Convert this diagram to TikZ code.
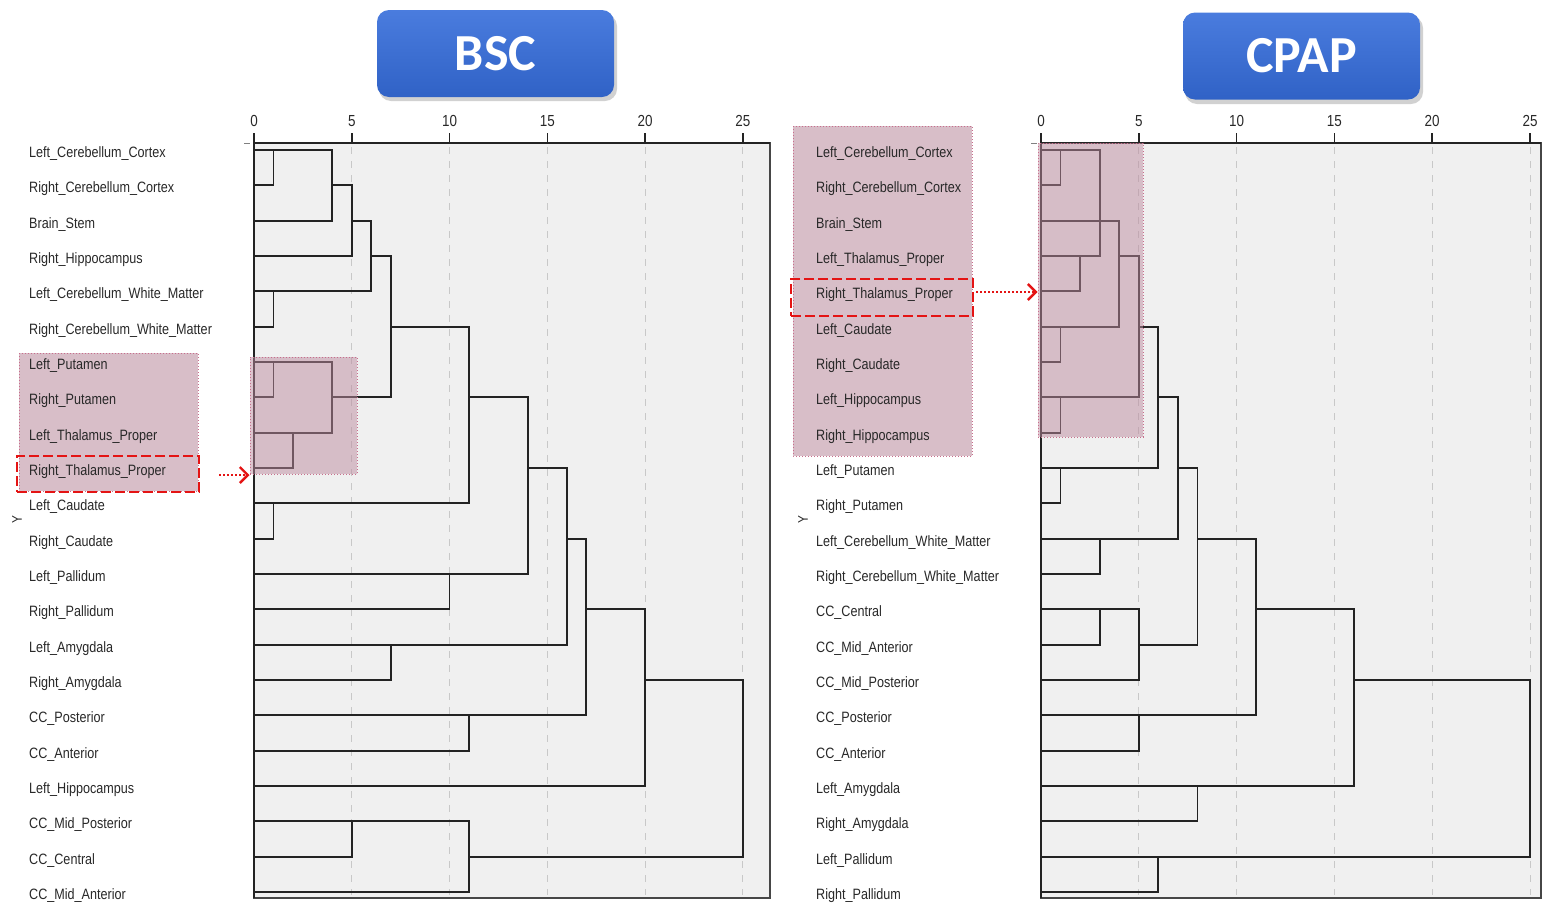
\documentclass[tikz,border=0pt]{standalone}
\usepackage{fontspec}
\setmainfont{Liberation Sans}
\newfontfamily\narrowfont[FakeStretch=0.84]{Liberation Sans}
\newfontfamily\titlefont{Carlito}
\usetikzlibrary{arrows.meta}
\definecolor{plotbg}{RGB}{240,240,240}
\definecolor{gridc}{RGB}{200,200,200}
\definecolor{dline}{RGB}{35,35,35}
\definecolor{framec}{RGB}{70,70,70}
\definecolor{pinkfill}{RGB}{216,190,200}
\definecolor{pinkover}{RGB}{190,140,160}
\definecolor{pinkedge}{RGB}{200,110,140}
\definecolor{hred}{RGB}{228,20,20}
\definecolor{btop}{RGB}{74,124,222}
\definecolor{bbot}{RGB}{48,98,198}
\definecolor{labc}{RGB}{40,40,40}
\tikzset{
  lab/.style={anchor=base west, font=\narrowfont\fontsize{15}{18}\selectfont, text=labc, inner sep=0pt},
  ticklab/.style={anchor=base, font=\narrowfont\fontsize{16}{18}\selectfont, text=labc, inner sep=0pt},
  dend/.style={draw=dline, line width=1.8pt, line cap=rect},
  gridline/.style={draw=gridc, line width=1pt, dash pattern=on 7pt off 7pt},
  tickmark/.style={draw=dline, line width=1.5pt},
  plotframe/.style={fill=plotbg, draw=framec, line width=1.4pt},
  titlebox/.style={rounded corners=12pt, top color=btop, bottom color=bbot, draw=none,
    text=white, font=\titlefont\bfseries\fontsize{52}{60}\selectfont,
    minimum width=237pt, minimum height=87pt, inner sep=0pt},
  shadowbox/.style={fill=black, opacity=0.18, rounded corners=12pt},
  pinklab/.style={fill=pinkfill, draw=pinkedge, dotted, line width=1pt},
  pinkplot/.style={fill=pinkover, fill opacity=0.5, draw=pinkedge, dotted, line width=1pt},
  redbox/.style={draw=hred, line width=2.8pt, dash pattern=on 10pt off 4pt, inner sep=0pt},
  redarrow/.style={draw=hred, line width=2.2pt, dash pattern=on 2pt off 2pt,
    -{Straight Barb[length=8pt,width=16pt,line width=2.4pt]}},
  ymark/.style={font=\narrowfont\fontsize{14}{14}\selectfont, text=labc, rotate=90, inner sep=0pt}
}
\begin{document}
\begin{tikzpicture}[x=1pt,y=-1pt]
\useasboundingbox (0,0) rectangle (1543,903);

% ---------- titles ----------
\fill[shadowbox] (379,14) rectangle (617,101);
\node[titlebox] (bsc) at (495.5,53.5) {BSC};
\fill[shadowbox] (1185,16) rectangle (1423,104);
\node[titlebox] (cpap) at (1301.5,56) {CPAP};

% ---------- plot frames ----------
\draw[plotframe] (254,143) rectangle (770,898);
\draw[plotframe] (1041,143) rectangle (1541,898);
\draw[gray, line width=1pt] (244,143) -- (250,143);
\draw[gray, line width=1pt] (1031,143) -- (1037,143);

% grid and ticks (left)
\foreach \v in {5,10,15,20,25}
  \draw[gridline] ({254+19.55*\v},147) -- ({254+19.55*\v},895);
\foreach \v in {0,5,10,15,20,25} {
  \draw[tickmark] ({254+19.55*\v},133) -- ({254+19.55*\v},143);
  \node[ticklab] (lt\v) at ({254+19.55*\v},126) {\v};
}
\draw[draw=dline, line width=2.2pt] (254,143) -- (770,143);
% grid and ticks (right)
\foreach \v in {5,10,15,20,25}
  \draw[gridline] ({1041+19.56*\v},147) -- ({1041+19.56*\v},895);
\foreach \v in {0,5,10,15,20,25} {
  \draw[tickmark] ({1041+19.56*\v},133) -- ({1041+19.56*\v},143);
  \node[ticklab] (rt\v) at ({1041+19.56*\v},126) {\v};
}
\draw[draw=dline, line width=2.2pt] (1041,143) -- (1541,143);

% ---------- label highlight boxes ----------
\draw[pinklab] (19,353) rectangle (198,491);
\draw[pinklab] (793,126) rectangle (972,456);

% ---------- labels ----------
\foreach \t [count=\i from 0] in {Left\_Cerebellum\_Cortex, Right\_Cerebellum\_Cortex, Brain\_Stem,
  Right\_Hippocampus, Left\_Cerebellum\_White\_Matter, Right\_Cerebellum\_White\_Matter,
  Left\_Putamen, Right\_Putamen, Left\_Thalamus\_Proper, Right\_Thalamus\_Proper,
  Left\_Caudate, Right\_Caudate, Left\_Pallidum, Right\_Pallidum, Left\_Amygdala,
  Right\_Amygdala, CC\_Posterior, CC\_Anterior, Left\_Hippocampus, CC\_Mid\_Posterior,
  CC\_Central, CC\_Mid\_Anterior}
  \node[lab] (bl\i) at (29,{157.5+35.333*\i}) {\t};
\foreach \t [count=\i from 0] in {Left\_Cerebellum\_Cortex, Right\_Cerebellum\_Cortex, Brain\_Stem,
  Left\_Thalamus\_Proper, Right\_Thalamus\_Proper, Left\_Caudate, Right\_Caudate,
  Left\_Hippocampus, Right\_Hippocampus, Left\_Putamen, Right\_Putamen,
  Left\_Cerebellum\_White\_Matter, Right\_Cerebellum\_White\_Matter, CC\_Central,
  CC\_Mid\_Anterior, CC\_Mid\_Posterior, CC\_Posterior, CC\_Anterior, Left\_Amygdala,
  Right\_Amygdala, Left\_Pallidum, Right\_Pallidum}
  \node[lab] (cl\i) at (816,{157.5+35.333*\i}) {\t};
\node[ymark] (yl) at (17,520) {Y};
\node[ymark] (yr) at (803,520) {Y};

% ---------- left dendrogram (BSC) ----------
\begin{scope}[xshift=254pt, yshift=-150pt, x=19.55pt, y=-35.333pt]
\draw[dend] (0,0)--(4,0) (0,1)--(1,1) (1,0)--(1,1);
\draw[dend] (4,0)--(4,2) (0,2)--(4,2) (4,1)--(5,1);
\draw[dend] (0,3)--(5,3) (5,1)--(5,3) (5,2)--(6,2);
\draw[dend] (0,4)--(6,4) (0,5)--(1,5) (1,4)--(1,5);
\draw[dend] (6,2)--(6,4) (6,3)--(7,3);
\draw[dend] (0,6)--(4,6) (0,7)--(1,7) (1,6)--(1,7);
\draw[dend] (0,8)--(4,8) (0,9)--(2,9) (2,8)--(2,9);
\draw[dend] (4,6)--(4,8) (4,7)--(7,7);
\draw[dend] (7,3)--(7,7) (7,5)--(11,5);
\draw[dend] (0,10)--(11,10) (0,11)--(1,11) (1,10)--(1,11);
\draw[dend] (11,5)--(11,10) (11,7)--(14,7);
\draw[dend] (0,12)--(14,12) (0,13)--(10,13) (10,12)--(10,13);
\draw[dend] (14,7)--(14,12) (14,9)--(16,9);
\draw[dend] (0,14)--(16,14) (0,15)--(7,15) (7,14)--(7,15);
\draw[dend] (16,9)--(16,14) (16,11)--(17,11);
\draw[dend] (0,16)--(17,16) (0,17)--(11,17) (11,16)--(11,17);
\draw[dend] (17,11)--(17,16) (17,13)--(20,13);
\draw[dend] (0,18)--(20,18);
\draw[dend] (20,13)--(20,18) (20,15)--(25,15);
\draw[dend] (0,19)--(11,19) (0,20)--(5,20) (5,19)--(5,20);
\draw[dend] (0,21)--(11,21) (11,19)--(11,21) (11,20)--(25,20);
\draw[dend] (25,15)--(25,20);
\draw[dend] (0,-0.2)--(0,21.15);
\end{scope}

% ---------- right dendrogram (CPAP) ----------
\begin{scope}[xshift=1041pt, yshift=-150pt, x=19.56pt, y=-35.333pt]
\draw[dend] (0,0)--(3,0) (0,1)--(1,1) (1,0)--(1,1);
\draw[dend] (0,3)--(3,3) (0,4)--(2,4) (2,3)--(2,4);
\draw[dend] (3,0)--(3,3) (0,2)--(4,2);
\draw[dend] (0,5)--(4,5) (0,6)--(1,6) (1,5)--(1,6);
\draw[dend] (4,2)--(4,5) (4,3)--(5,3);
\draw[dend] (0,7)--(5,7) (0,8)--(1,8) (1,7)--(1,8);
\draw[dend] (5,3)--(5,7) (5,5)--(6,5);
\draw[dend] (0,9)--(6,9) (0,10)--(1,10) (1,9)--(1,10);
\draw[dend] (6,5)--(6,9) (6,7)--(7,7);
\draw[dend] (0,11)--(7,11) (0,12)--(3,12) (3,11)--(3,12);
\draw[dend] (7,7)--(7,11) (7,9)--(8,9);
\draw[dend] (0,13)--(5,13) (0,14)--(3,14) (3,13)--(3,14);
\draw[dend] (0,15)--(5,15) (5,13)--(5,15) (5,14)--(8,14);
\draw[dend] (8,9)--(8,14) (8,11)--(11,11);
\draw[dend] (0,16)--(11,16) (0,17)--(5,17) (5,16)--(5,17);
\draw[dend] (11,11)--(11,16) (11,13)--(16,13);
\draw[dend] (0,18)--(16,18) (0,19)--(8,19) (8,18)--(8,19);
\draw[dend] (16,13)--(16,18) (16,15)--(25,15);
\draw[dend] (0,20)--(25,20) (0,21)--(6,21) (6,20)--(6,21);
\draw[dend] (25,15)--(25,20);
\draw[dend] (0,-0.2)--(0,21.15);
\end{scope}

% ---------- plot highlight boxes ----------
\node[pinkplot, minimum width=107pt, minimum height=117pt, inner sep=0pt] (pb1) at (303.5,415.5) {};
\node[pinkplot, minimum width=105pt, minimum height=294pt, inner sep=0pt] (pb2) at (1090.5,290) {};

% ---------- red highlight boxes and arrows ----------
\node[redbox, minimum width=182pt, minimum height=36pt] (hl1) at (108,474) {};
\node[redbox, minimum width=182pt, minimum height=37pt] (hl2) at (882,297.5) {};
\coordinate (a1s) at (219,475);
\draw[redarrow] (a1s) -- (pb1.south west |- a1s);
\coordinate (a2s) at (976,292);
\draw[redarrow] (a2s) -- (pb2.west |- a2s);
\end{tikzpicture}
\end{document}
